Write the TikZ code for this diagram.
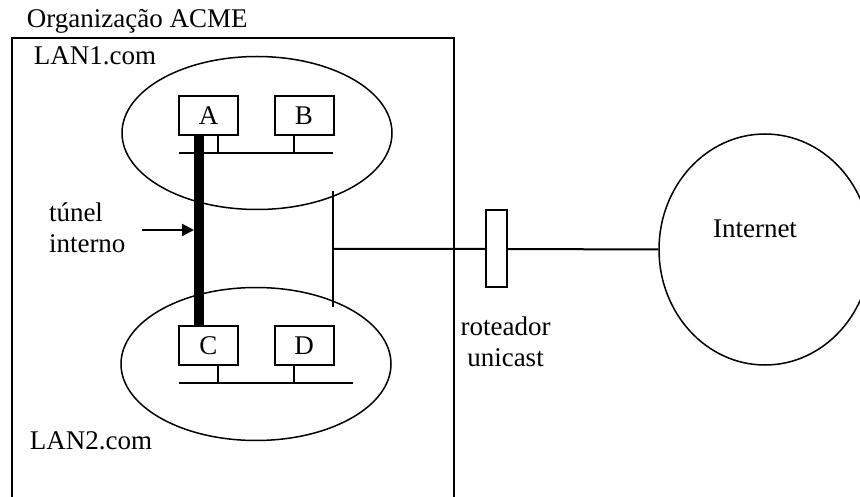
\documentclass[tikz,border=0pt]{standalone}
\usepackage{fontspec}
\setmainfont{Liberation Serif}
\usetikzlibrary{shapes.geometric,arrows.meta}
\begin{document}
\begin{tikzpicture}[x=1pt, y=-1pt, line width=2pt,
  every node/.style={font=\fontsize{27}{31}\selectfont, inner sep=0pt},
  host/.style={draw, minimum width=59pt, minimum height=39pt},
  lan/.style={draw, ellipse, line width=1.5pt, minimum width=270pt, minimum height=153pt}]
  \useasboundingbox (0,0) rectangle (860,497);
  % organizacao e LANs
  \draw (12,497) |- (454,38) -- (454,497);
  \node[lan] (lan1) at (257,133) {};
  \node[lan] (lan2) at (256,364) {};
  \node[host] (A) at (208.5,115.5) {A}; \node[host] (B) at (304,115.5) {B};
  \node[host] (C) at (208.5,345.5) {C}; \node[host] (D) at (304,345.5) {D};
  \coordinate (bus1w) at (179,153); \coordinate (bus1e) at (333,153);
  \coordinate (bus2w) at (179,383); \coordinate (bus2e) at (353,383);
  \draw (bus1w) -- (bus1e) (bus2w) -- (bus2e);
  \draw ([xshift=9.5pt]A.south) -- ([xshift=9.5pt]A.south |- bus1w);
  \draw ([xshift=-10pt]B.south) -- ([xshift=-10pt]B.south |- bus1w);
  \draw ([xshift=9.5pt]C.south) -- ([xshift=9.5pt]C.south |- bus2w);
  \draw ([xshift=-10pt]D.south) -- ([xshift=-10pt]D.south |- bus2w);
  % tunel
  \draw[line width=10pt] ([xshift=-9.5pt]A.south) -- ([xshift=-9.5pt]C.north);
  \coordinate (tail) at (142,230); \coordinate (tip) at (194,230);
  \draw[-{Triangle[length=12pt,width=12pt]}] (tail) -- (tip);
  % saida para a Internet
  \coordinate (bbn) at (333,191); \coordinate (bbs) at (333,307); \coordinate (bbm) at (333,249);
  \node[draw, minimum width=21pt, minimum height=77pt] (rt) at (496.5,249) {};
  \node[draw, ellipse, line width=1.5pt, minimum width=212pt, minimum height=231pt] (net) at (765,249.5) {};
  \draw (bbn) -- (bbs);
  \draw (bbm) -- (rt.west) (rt.east) -- (net.west);
  % textos
  \node[anchor=base west] (org) at (26,28) {Organização ACME};
  \node[anchor=base west] (lan1lbl) at (33,65) {LAN1.com};
  \node[anchor=base west] (lan2lbl) at (29,449) {LAN2.com};
  \node[anchor=west, align=left] (tunlbl) at (48,228) {túnel\\interno};
  \node[anchor=north, align=center] (rtlbl) at (505.5,316) {roteador\\unicast};
  \node[anchor=base] (netlbl) at (755,238) {Internet};
\end{tikzpicture}
\end{document}
